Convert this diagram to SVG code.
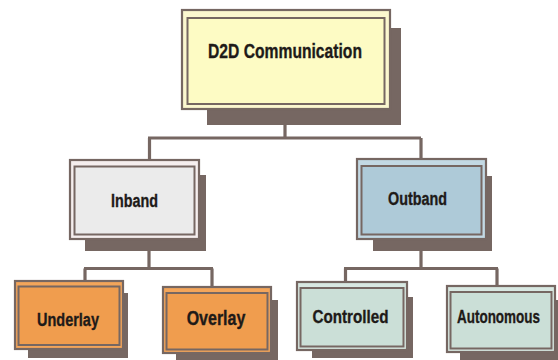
<svg xmlns="http://www.w3.org/2000/svg" width="558" height="360" viewBox="0 0 558 360">
<style>
.shadow{fill:#766762;}
.outer{stroke:#766762;stroke-width:2.2;}
.inner{stroke:#766762;stroke-width:2;}
.lbl{font-family:"Liberation Sans",Arial,sans-serif;font-weight:bold;fill:#1e1a18;stroke:#1e1a18;stroke-width:0.35;text-anchor:middle;}
.conn{fill:none;stroke:#766762;stroke-width:3.2;}
.y1{fill:#fbf7cf;} .y2{fill:#fdfbc4;}
.g1{fill:#f5eeee;} .g2{fill:#ebebeb;}
.b1{fill:#c3d9e4;} .b2{fill:#aecad8;}
.o1{fill:#f3a55a;} .o2{fill:#f09d4e;}
.t1{fill:#d8e8e2;} .t2{fill:#cbdfd7;}
</style>
<rect width="558" height="360" fill="#ffffff"/>
<g id="connectors">
<path class="conn" d="M285,124 V138 M148,138 H421 M149.5,138 V160 M421,138 V159"/>
<path class="conn" d="M149,250 V268.5 M84,268.5 H213 M85,268.5 V282 M212,268.5 V287"/>
<path class="conn" d="M421,250 V268.5 M344,268.5 H498 M345.5,268.5 V282 M497,268.5 V287"/>
</g>
<g id="d2d">
<rect class="shadow" x="207" y="28" width="194" height="97"/>
<rect class="outer y1" x="182" y="10" width="208" height="99"/>
<rect class="inner y2" x="187.5" y="18" width="197" height="86"/>
<text class="lbl" transform="translate(285,58) scale(0.746,1)" font-size="21">D2D Communication</text>
</g>
<g id="inband">
<rect class="shadow" x="85" y="175" width="121" height="76"/>
<rect class="outer g1" x="70" y="160" width="129" height="79"/>
<rect class="inner g2" x="74.5" y="166.5" width="120" height="68"/>
<text class="lbl" transform="translate(134.5,207) scale(0.755,1)" font-size="19">Inband</text>
</g>
<g id="outband">
<rect class="shadow" x="373" y="176" width="119" height="75"/>
<rect class="outer b1" x="357" y="159" width="129" height="80"/>
<rect class="inner b2" x="361.5" y="166" width="120" height="68.5"/>
<text class="lbl" transform="translate(417.5,205) scale(0.755,1)" font-size="19">Outband</text>
</g>
<g id="underlay">
<rect class="shadow" x="28" y="293" width="100" height="65"/>
<rect class="outer o1" x="15" y="281" width="108" height="68"/>
<rect class="inner o2" x="18.5" y="286.5" width="101" height="58.5"/>
<text class="lbl" transform="translate(68,326) scale(0.763,1)" font-size="19">Underlay</text>
</g>
<g id="overlay">
<rect class="shadow" x="176" y="300" width="102" height="60"/>
<rect class="outer o1" x="163" y="287" width="108" height="66"/>
<rect class="inner o2" x="166.5" y="293" width="101" height="56.5"/>
<text class="lbl" transform="translate(216,325) scale(0.8,1)" font-size="20">Overlay</text>
</g>
<g id="controlled">
<rect class="shadow" x="312" y="297" width="101" height="61"/>
<rect class="outer t1" x="297" y="282" width="110" height="68"/>
<rect class="inner t2" x="300.5" y="288" width="103" height="58.5"/>
<text class="lbl" transform="translate(350.5,323) scale(0.8,1)" font-size="19">Controlled</text>
</g>
<g id="autonomous">
<rect class="shadow" x="460" y="300" width="100" height="62"/>
<rect class="outer t1" x="447" y="286" width="108" height="66"/>
<rect class="inner t2" x="450.5" y="292" width="101" height="56.5"/>
<text class="lbl" transform="translate(498.5,323) scale(0.71,1)" font-size="19">Autonomous</text>
</g>
</svg>
